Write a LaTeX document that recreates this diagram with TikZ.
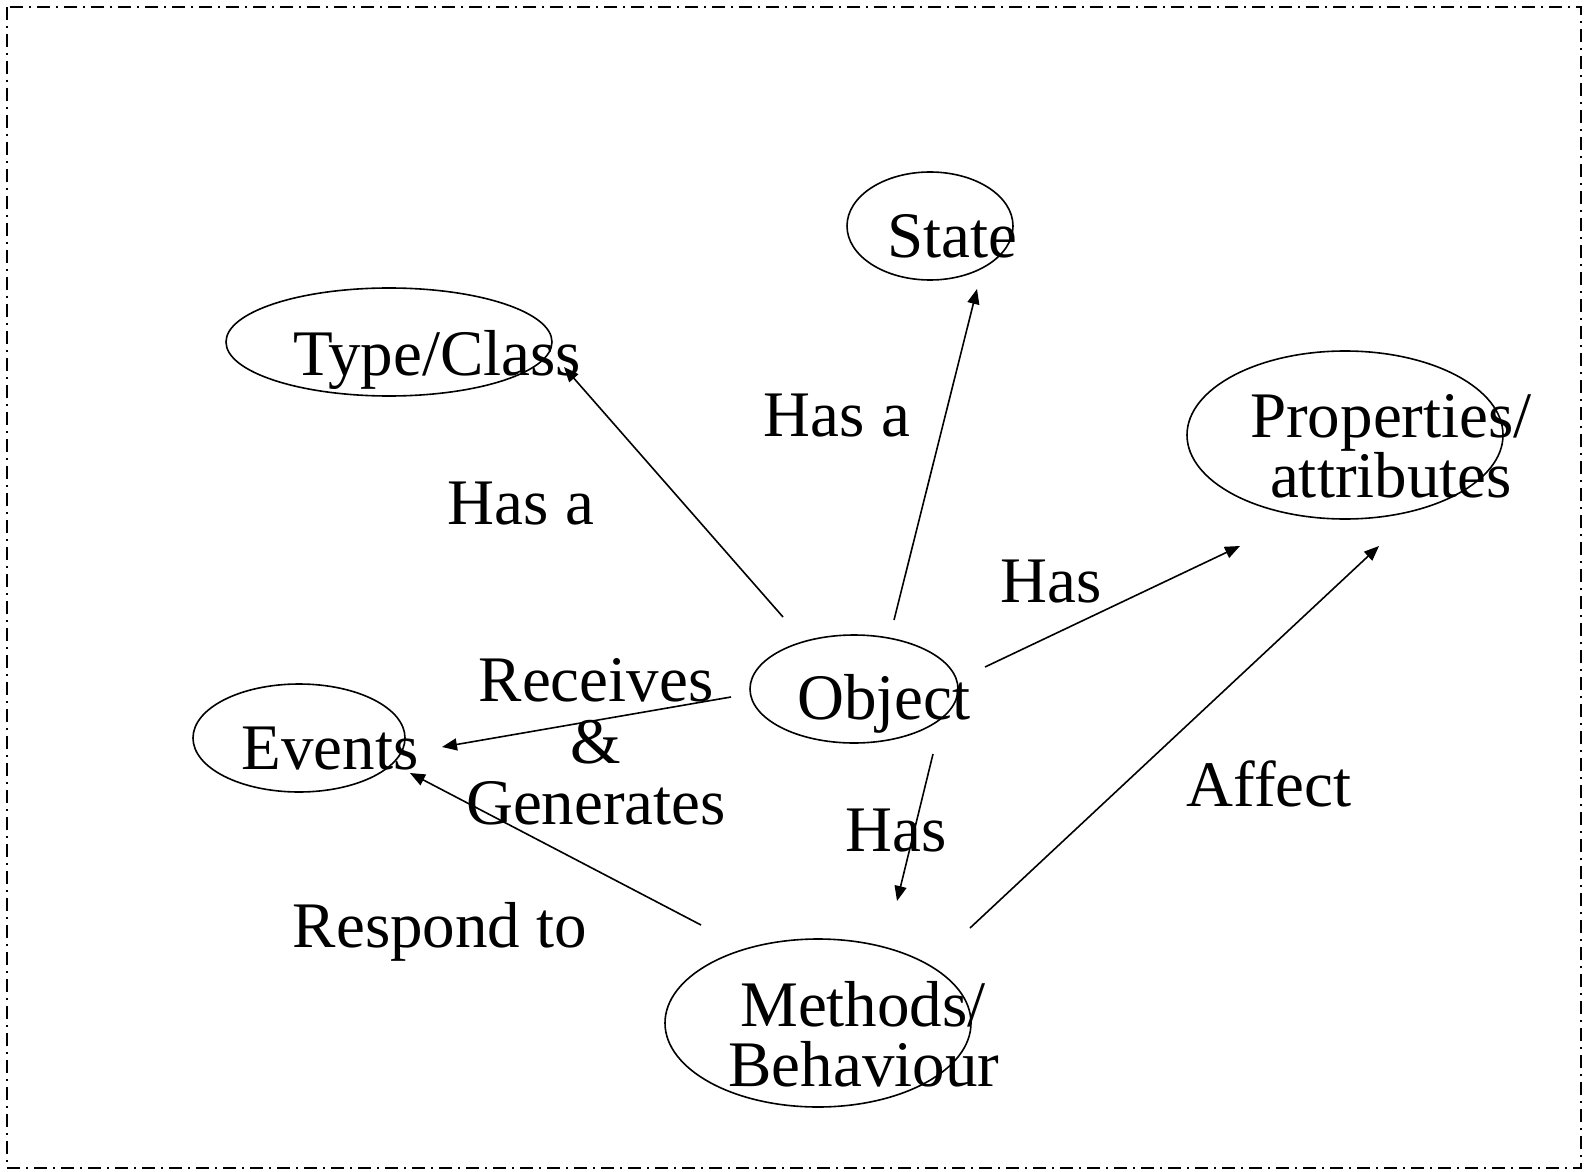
\documentclass[tikz,border=0pt]{standalone}
\usepackage{fontspec}
\setmainfont{Liberation Serif}
\usetikzlibrary{shapes.geometric,arrows.meta}
\begin{document}
\begin{tikzpicture}[x=0.5pt,y=-0.5pt,
  bubble/.style={draw,ellipse,line width=0.8pt,inner sep=0pt},
  word/.style={anchor=base,inner sep=0pt,font=\fontsize{32.5pt}{30.7pt}\selectfont},
  link/.style={line width=0.8pt,-{Triangle[length=7.5pt,width=6pt]}},
  frame/.style={line width=1pt,dash pattern=on 6.5pt off 3pt on 1pt off 3pt}]
\useasboundingbox (0,0) rectangle (1588,1171);
\draw[frame] (7,7) rectangle (1581,1168);

% ellipses
\node[bubble,minimum width=83pt,minimum height=54pt]  (state)  at (930,226) {};
\node[bubble,minimum width=163pt,minimum height=54pt] (type)   at (389,342) {};
\node[bubble,minimum width=158pt,minimum height=84pt] (props)  at (1345,435) {};
\node[bubble,minimum width=104pt,minimum height=54pt] (object) at (854,689) {};
\node[bubble,minimum width=106pt,minimum height=54pt] (events) at (299,738) {};
\node[bubble,minimum width=153pt,minimum height=84pt] (methods) at (818,1023) {};

% texts of the ellipses
\node[word] (tState)  at (952,258) {State};
\node[word] (tType)   at (437,375) {Type/Class};
\node[word] (tProps1) at (1391,437) {Properties/};
\node[word] (tProps2) at (1391,497) {attributes};
\node[word] (tObject) at (884,719) {Object};
\node[word] (tEvents) at (330,769) {Events};
\node[word] (tMeth1)  at (863,1026) {Methods/};
\node[word] (tMeth2)  at (864,1086) {Behaviour};

% connector labels
\node[word] (lState) at (837,436) {Has a};
\node[word] (lType)  at (521,524) {Has a};
\node[word] (lProps) at (1051,602) {Has};
\node[word] (lRec1)  at (596,701) {Receives};
\node[word] (lRec2)  at (596,763) {\&};
\node[word] (lRec3)  at (596,824) {Generates};
\node[word] (lMeth)  at (896,851) {Has};
\node[word] (lAff)   at (1269,806) {Affect};
\node[word] (lResp)  at (440,947) {Respond to};

% connector end points
\coordinate (o-type)   at (783,617);
\coordinate (type-in)  at (564,367);
\coordinate (o-state)  at (894,620);
\coordinate (state-in) at (977,289);
\coordinate (o-props)  at (985,667);
\coordinate (props-in1) at (1240,546);
\coordinate (o-events) at (731,697);
\coordinate (events-in1) at (442,747);
\coordinate (o-meth)   at (933,754);
\coordinate (meth-in)  at (897,901);
\coordinate (m-events) at (701,925);
\coordinate (events-in2) at (410,773);
\coordinate (m-props)  at (970,928);
\coordinate (props-in2) at (1379,546);

% connectors
\draw[link] (o-type) -- (type-in);
\draw[link] (o-state) -- (state-in);
\draw[link] (o-props) -- (props-in1);
\draw[link] (o-events) -- (events-in1);
\draw[link] (o-meth) -- (meth-in);
\draw[link] (m-events) -- (events-in2);
\draw[link] (m-props) -- (props-in2);
\end{tikzpicture}
\end{document}
